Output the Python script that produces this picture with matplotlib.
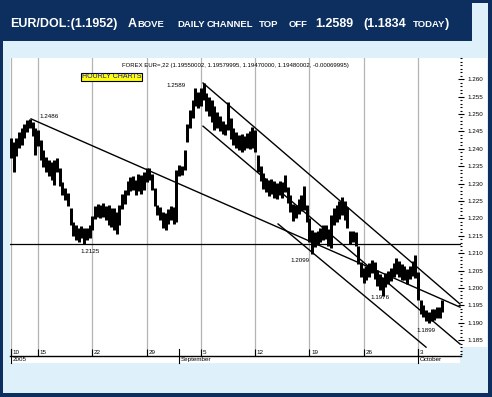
import numpy as np
import matplotlib
matplotlib.use('Agg')
import matplotlib.pyplot as plt
import matplotlib.transforms as mtransforms
from matplotlib.patches import Rectangle
from matplotlib.ticker import MultipleLocator, FormatStrFormatter

# ---- data (x in trading days from Mon 15 Aug 2005, 6-hour bars) ----
bar_start = -2.5
bar_step = 0.25
bar_high = [1.2431, 1.2419, 1.2431, 1.2448, 1.2459, 1.2471, 1.2483, 1.2486, 1.2478, 1.2459,
            1.2454, 1.2425, 1.2397, 1.2376, 1.2368, 1.2362, 1.2368, 1.2373, 1.2345, 1.2304,
            1.2287, 1.2273, 1.2230, 1.2189, 1.2181, 1.2172, 1.2178, 1.2172, 1.2172, 1.2181,
            1.2207, 1.2236, 1.2242, 1.2239, 1.2245, 1.2236, 1.2239, 1.2230, 1.2230, 1.2218,
            1.2239, 1.2270, 1.2282, 1.2307, 1.2319, 1.2322, 1.2310, 1.2328, 1.2325, 1.2333,
            1.2345, 1.2345, 1.2328, 1.2287, 1.2239, 1.2233, 1.2218, 1.2216, 1.2227, 1.2236,
            1.2233, 1.2339, 1.2353, 1.2350, 1.2397, 1.2471, 1.2511, 1.2540, 1.2575, 1.2563,
            1.2575, 1.2589, 1.2560, 1.2549, 1.2540, 1.2523, 1.2505, 1.2494, 1.2480, 1.2471,
            1.2534, 1.2488, 1.2459, 1.2448, 1.2440, 1.2443, 1.2437, 1.2445, 1.2451, 1.2462,
            1.2454, 1.2382, 1.2350, 1.2331, 1.2316, 1.2310, 1.2313, 1.2307, 1.2301, 1.2307,
            1.2304, 1.2325, 1.2290, 1.2267, 1.2242, 1.2239, 1.2256, 1.2267, 1.2293, 1.2239,
            1.2201, 1.2167, 1.2161, 1.2164, 1.2172, 1.2181, 1.2181, 1.2170, 1.2210, 1.2230,
            1.2239, 1.2250, 1.2261, 1.2250, 1.2233, 1.2164, 1.2164, 1.2161, 1.2121, 1.2075,
            1.2058, 1.2063, 1.2072, 1.2080, 1.2075, 1.2052, 1.2040, 1.2031, 1.2043, 1.2049,
            1.2058, 1.2072, 1.2086, 1.2078, 1.2069, 1.2063, 1.2055, 1.2063, 1.2078, 1.2095,
            1.2046, 1.1966, 1.1951, 1.1937, 1.1931, 1.1940, 1.1940, 1.1945, 1.1945, 1.1966]
bar_low = [1.2373, 1.2333, 1.2379, 1.2402, 1.2411, 1.2431, 1.2448, 1.2459, 1.2437, 1.2382,
           1.2408, 1.2368, 1.2348, 1.2333, 1.2322, 1.2310, 1.2296, 1.2333, 1.2293, 1.2267,
           1.2253, 1.2236, 1.2181, 1.2149, 1.2138, 1.2132, 1.2143, 1.2125, 1.2138, 1.2143,
           1.2167, 1.2198, 1.2204, 1.2201, 1.2204, 1.2195, 1.2181, 1.2175, 1.2167, 1.2155,
           1.2181, 1.2227, 1.2242, 1.2267, 1.2279, 1.2282, 1.2267, 1.2279, 1.2270, 1.2282,
           1.2304, 1.2310, 1.2282, 1.2236, 1.2210, 1.2195, 1.2172, 1.2167, 1.2184, 1.2195,
           1.2184, 1.2189, 1.2322, 1.2325, 1.2339, 1.2419, 1.2459, 1.2488, 1.2523, 1.2517,
           1.2523, 1.2540, 1.2508, 1.2494, 1.2477, 1.2454, 1.2459, 1.2451, 1.2443, 1.2440,
           1.2454, 1.2428, 1.2411, 1.2402, 1.2397, 1.2391, 1.2397, 1.2402, 1.2400, 1.2402,
           1.2391, 1.2333, 1.2307, 1.2285, 1.2276, 1.2264, 1.2270, 1.2259, 1.2256, 1.2267,
           1.2259, 1.2276, 1.2245, 1.2218, 1.2192, 1.2201, 1.2213, 1.2221, 1.2224, 1.2189,
           1.2132, 1.2099, 1.2118, 1.2124, 1.2132, 1.2138, 1.2141, 1.2121, 1.2115, 1.2181,
           1.2189, 1.2198, 1.2210, 1.2195, 1.2172, 1.2127, 1.2132, 1.2121, 1.2069, 1.2031,
           1.2014, 1.2023, 1.2031, 1.2043, 1.2026, 1.2006, 1.1994, 1.1976, 1.2003, 1.2012,
           1.2020, 1.2031, 1.2040, 1.2031, 1.2023, 1.2023, 1.2012, 1.2026, 1.2034, 1.2029,
           1.1966, 1.1925, 1.1917, 1.1905, 1.1899, 1.1905, 1.1908, 1.1914, 1.1914, 1.1931]

support_level = 1.2125

# trend lines: (start day, end day), (start price, end price)
trend_days = [(-0.645, 38.87), (15.2, 38.87), (15.2, 38.87), (22.11, 35.74)]
trend_prices = [(1.2486, 1.1945), (1.2589, 1.1954), (1.2465, 1.1839), (1.2184, 1.1830)]

note_text = ['1.2486', '1.2125', '1.2589', '1.2099', '1.1976', '1.1899']
note_day = [0.09, 3.87, 11.79, 23.21, 30.58, 34.82]
note_price = [1.2494, 1.2106, 1.2581, 1.2080, 1.1972, 1.1877]

week_pos = [-2.5, 0, 5, 10, 15, 20, 25, 30, 35]
week_lab = ['10', '15', '22', '29', '5', '12', '19', '26', '3']
month_pos = [-2.5, 13, 35]
month_lab = ['2005', 'September', 'October']

header = 'FOREX EUR=,22 (1.19550002, 1.19579995, 1.19470000, 1.19480002, -0.00069995)'

# ---- figure ----
W, H = 492, 397
NAVY = '#0c2f5f'
PALE = '#def0fa'
fig = plt.figure(figsize=(W / 100, H / 100), dpi=100, facecolor=PALE)


def rect(x, y, w, h, color, z=-1):
    # pixel box (top-left origin) -> figure patch
    fig.patches.append(Rectangle((x / W, 1 - (y + h) / H), w / W, h / H,
                                 transform=fig.transFigure, color=color, zorder=z, lw=0))


rect(0, 0, 3, H, NAVY)
rect(488, 0, 4, H, NAVY)
rect(0, 393, W, 4, NAVY)
rect(0, 0, W, 3, NAVY)
rect(0, 0, 472, 41, NAVY)
rect(461, 58, 26, 289, 'white')
rect(10, 356, 450, 7, 'white')

# title with small caps
title_font = 'Liberation Sans'
big, small = 9, 6.8
title_parts = [('EUR/DOL:(1.1952)', big, 10), ('A', big, 128), ('BOVE', small, None),
               ('DAILY', small, 177), ('CHANNEL', small, 207), ('TOP', small, 259),
               ('OFF', small, 289), ('1.2589', big, 315), ('(1.1834', big, 363),
               ('TODAY', small, 413), (')', big, None)]
renderer = fig.canvas.get_renderer()
cur = 0
for txt, size, xs in title_parts:
    if xs is not None:
        cur = xs
    t = fig.text(cur / W, 1 - 27 / H, txt, fontsize=size, fontweight='bold', color='white',
                 family=title_font, va='baseline', ha='left')
    cur += t.get_window_extent(renderer).width

ax = fig.add_axes([10 / W, 1 - 356 / H, 451 / W, 298 / H])
ax.set_facecolor('white')
ax.set_xlim(-2.58, 38.96)
ax.set_ylim(1.18046, 1.26609)

for p in week_pos:
    ax.axvline(p, color='#b4b4b4', lw=0.9, zorder=0)

bar_days = bar_start + bar_step * np.arange(len(bar_high))
ax.vlines(bar_days, bar_low, bar_high, color='black', lw=2.15, zorder=3, capstyle='butt')

ax.axhline(support_level, color='black', lw=0.9, zorder=2)
for d, p in zip(trend_days, trend_prices):
    ax.plot(d, p, color='black', lw=1.0, zorder=2)

for txt, d, p in zip(note_text, note_day, note_price):
    ax.text(d, p, txt, fontsize=4.5, family='Liberation Sans', va='center', ha='left', zorder=4)

# y axis on the right
for s in ['left', 'top', 'right']:
    ax.spines[s].set_visible(False)
ax.spines['bottom'].set_linewidth(1.0)
ax.yaxis.tick_right()
ax.yaxis.set_major_locator(MultipleLocator(0.005))
ax.yaxis.set_minor_locator(MultipleLocator(0.001))
ax.yaxis.set_major_formatter(FormatStrFormatter('%.3f'))
ax.tick_params(axis='y', which='major', direction='inout', length=4, width=0.8, pad=3,
               labelsize=4.5)
ax.tick_params(axis='y', which='minor', direction='inout', length=2, width=0.8)
for lab in ax.get_yticklabels():
    lab.set_family('Liberation Sans')
labels = ax.yaxis.get_major_ticks()
for tk, v in zip(labels, ax.get_yticks()):
    if v > 1.2605 or v < 1.1845:
        tk.label2.set_visible(False)
        tk.tick2line.set_markersize(2)

# x axis: week ticks inside, labels just above the axis line
ax.set_xticks(week_pos)
ax.set_xticklabels([])
ax.tick_params(axis='x', direction='in', length=5, width=0.8, color='black')
trans = mtransforms.blended_transform_factory(ax.transData, ax.transAxes)
for p, lab in zip(week_pos, week_lab):
    ax.text(p + 0.15, 0.013, lab, transform=trans, fontsize=4.5, family='Liberation Sans',
            va='center', ha='left')
for p, lab in zip(month_pos, month_lab):
    ax.plot([p, p], [-0.024, 0.0235], transform=trans, color='black', lw=0.8, clip_on=False)
    ax.text(p + 0.15, -0.0125, lab, transform=trans, fontsize=4.5, family='Liberation Sans',
            va='center', ha='left')

fig.text(235 / W, 1 - 66 / H, header, fontsize=4.3, family='Liberation Sans',
         ha='center', va='center')
fig.text(111.5 / W, 1 - 77 / H, 'HOURLY CHARTS', fontsize=5.0, family='Liberation Sans',
         color='#1010d0', ha='center', va='center',
         bbox=dict(boxstyle='square,pad=0.08', facecolor='#ffff00', edgecolor='black', lw=0.8))

fig.savefig('out.png', dpi=100, facecolor=PALE)
